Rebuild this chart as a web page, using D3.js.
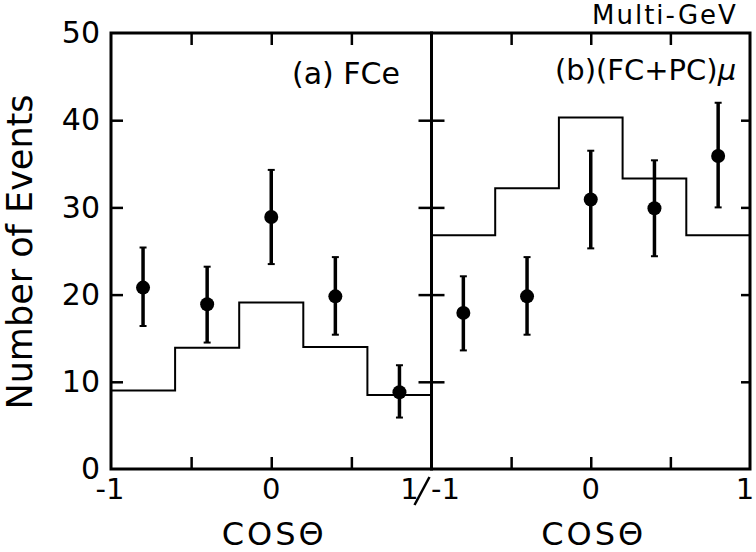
<!DOCTYPE html>
<html>
<head>
<meta charset="utf-8">
<script src="https://cdn.jsdelivr.net/npm/d3@7"></script>
<style>
  html, body { margin: 0; padding: 0; background: #fff; }
  svg { display: block; }
  text { font-family: "DejaVu Sans", sans-serif; fill: #000; }
</style>
</head>
<body>
<svg id="chart" width="756" height="552"></svg>
<script>
// ---- data ----
const binEdges = [-1, -0.6, -0.2, 0.2, 0.6, 1];
const mcA = [9.0, 13.9, 19.1, 14.0, 8.5];
const mcB = [26.8, 32.2, 40.3, 33.3, 26.8];
const cosCenters = [-0.8, -0.4, 0, 0.4, 0.8];
const dataA = [20.8, 18.9, 28.9, 19.8, 8.8];
const errAHi = [25.4, 23.2, 34.3, 24.3, 11.9];
const errALo = [16.4, 14.5, 23.5, 15.4, 5.9];
const dataB = [17.9, 19.8, 30.9, 29.9, 35.9];
const errBHi = [22.1, 24.3, 36.5, 35.4, 42.0];
const errBLo = [13.6, 15.4, 25.3, 24.4, 30.0];
const yTicks = [0, 10, 20, 30, 40, 50];
const xTicksMinor = [-0.5, 0, 0.5];
const panelTitles = ["(a) FCe", "(b)(FC+PC)"];

const svg = d3.select("#chart");
const y = d3.scaleLinear().domain([0, 50]).range([469, 33]);
const xa = d3.scaleLinear().domain([-1, 1]).range([111, 431.5]);
const xb = d3.scaleLinear().domain([-1, 1]).range([431.5, 750]);

function styleAxis(g) {
  g.select(".domain").remove();
  g.selectAll(".tick line").attr("stroke", "#000").attr("stroke-width", 2.5);
  g.selectAll("text").attr("font-family", "DejaVu Sans").attr("fill", "#000");
}

function panel(x, mc, data, hi, lo) {
  const g = svg.append("g");
  // histogram (MC expectation)
  const pts = mc.map((v, i) => ({ x: binEdges[i], y: v }));
  pts.push({ x: binEdges[binEdges.length - 1], y: mc[mc.length - 1] });
  g.append("path")
    .datum(pts)
    .attr("fill", "none")
    .attr("stroke", "#000")
    .attr("stroke-width", 2)
    .attr("d", d3.line().x(d => x(d.x)).y(d => y(d.y)).curve(d3.curveStepAfter));
  // error bars
  const eb = g.selectAll(".eb").data(cosCenters.map((c, i) => ({ c, v: data[i], hi: hi[i], lo: lo[i] })))
    .enter().append("g");
  eb.append("line")
    .attr("x1", d => x(d.c)).attr("x2", d => x(d.c))
    .attr("y1", d => y(d.hi)).attr("y2", d => y(d.lo))
    .attr("stroke", "#000").attr("stroke-width", 3.5);
  eb.append("line")
    .attr("x1", d => x(d.c) - 3.5).attr("x2", d => x(d.c) + 3.5)
    .attr("y1", d => y(d.hi)).attr("y2", d => y(d.hi))
    .attr("stroke", "#000").attr("stroke-width", 2);
  eb.append("line")
    .attr("x1", d => x(d.c) - 3.5).attr("x2", d => x(d.c) + 3.5)
    .attr("y1", d => y(d.lo)).attr("y2", d => y(d.lo))
    .attr("stroke", "#000").attr("stroke-width", 2);
  eb.append("circle")
    .attr("cx", d => x(d.c)).attr("cy", d => y(d.v)).attr("r", 7)
    .attr("fill", "#000");
  // top and bottom ticks (inward)
  g.append("g").attr("transform", `translate(0,${y(50)})`)
    .call(d3.axisTop(x).tickValues(xTicksMinor).tickSize(-12).tickFormat(""))
    .call(styleAxis);
  g.append("g").attr("transform", `translate(0,${y(0)})`)
    .call(d3.axisBottom(x).tickValues(xTicksMinor).tickSize(-12).tickFormat(""))
    .call(styleAxis);
  // frame
  g.append("rect")
    .attr("x", x(-1)).attr("y", y(50))
    .attr("width", x(1) - x(-1)).attr("height", y(0) - y(50))
    .attr("fill", "none").attr("stroke", "#000").attr("stroke-width", 3);
  return g;
}

panel(xa, mcA, dataA, errAHi, errALo);
panel(xb, mcB, dataB, errBHi, errBLo);

// left axis of panel (a): inward ticks + labels
svg.append("g").attr("transform", `translate(${xa(-1)},0)`)
  .call(d3.axisLeft(y).tickValues(yTicks.slice(1, -1)).tickSizeInner(-12).tickSizeOuter(0).tickFormat(""))
  .call(styleAxis);
svg.append("g").attr("transform", `translate(${xa(-1)},0)`)
  .call(d3.axisLeft(y).tickValues(yTicks).tickSize(0).tickPadding(11).tickFormat(d3.format("d")))
  .call(styleAxis)
  .selectAll("text").attr("font-size", 30);

// shared divider: ticks crossing both sides
svg.append("g").attr("transform", `translate(${xb(-1)},0)`)
  .call(d3.axisLeft(y).tickValues(yTicks.slice(1, -1)).tickSize(13).tickFormat(""))
  .call(styleAxis);
svg.append("g").attr("transform", `translate(${xb(-1)},0)`)
  .call(d3.axisRight(y).tickValues(yTicks.slice(1, -1)).tickSize(13).tickFormat(""))
  .call(styleAxis);
// right edge: inward ticks
svg.append("g").attr("transform", `translate(${xb(1)},0)`)
  .call(d3.axisRight(y).tickValues(yTicks.slice(1, -1)).tickSize(-9).tickFormat(""))
  .call(styleAxis);

// x tick labels
const xLab = svg.append("g").attr("font-size", 29);
const labY = y(0) + 30;
xLab.append("text").attr("x", xa(-1) - 1).attr("y", labY).attr("text-anchor", "middle").text("-1");
xLab.append("text").attr("x", xa(0)).attr("y", labY).attr("text-anchor", "middle").text("0");
xLab.append("text").attr("x", xa(1) - 22).attr("y", labY).attr("text-anchor", "middle").text("1");
xLab.append("text").attr("x", xb(-1) + 14).attr("y", labY).attr("text-anchor", "middle").text("-1");
xLab.append("text").attr("x", xb(0)).attr("y", labY).attr("text-anchor", "middle").text("0");
xLab.append("text").attr("x", xb(1) - 5).attr("y", labY).attr("text-anchor", "middle").text("1");
// slash joining "1/-1"
svg.append("line")
  .attr("x1", xa(1) - 2).attr("y1", y(0) + 8)
  .attr("x2", xa(1) - 17).attr("y2", y(0) + 36)
  .attr("stroke", "#000").attr("stroke-width", 2.5);

// x axis titles
[[xa, 0], [xb, 0]].forEach(([x, v]) => {
  svg.append("text")
    .attr("x", x(v) + 3).attr("y", 545)
    .attr("text-anchor", "middle")
    .attr("font-size", 32)
    .attr("letter-spacing", 3)
    .text("COSΘ");
});

// y axis title
svg.append("text")
  .attr("transform", `translate(32,${(y(0) + y(50)) / 2 + 1}) rotate(-90)`)
  .attr("text-anchor", "middle")
  .attr("font-size", 35)
  .text("Number of Events");

// panel labels
svg.append("text").attr("x", 292).attr("y", 84).attr("font-size", 30).text(panelTitles[0]);
const tb = svg.append("text").attr("x", 555).attr("y", 80).attr("font-size", 29);
tb.append("tspan").text(panelTitles[1]);
tb.append("tspan").attr("font-style", "italic").text("μ");

// header
svg.append("text").attr("x", 592).attr("y", 24).attr("font-size", 26).attr("letter-spacing", 2).text("Multi-GeV");
</script>
</body>
</html>
